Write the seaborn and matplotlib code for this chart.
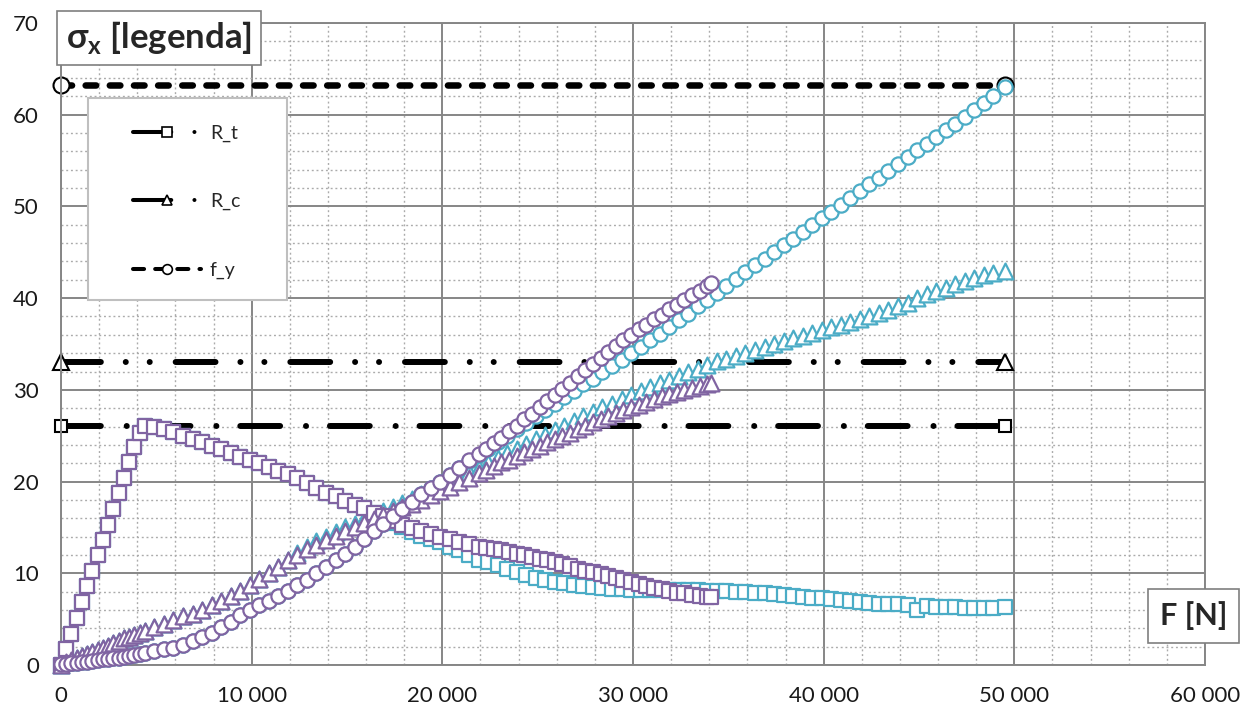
import matplotlib
matplotlib.use("Agg")
import matplotlib.pyplot as plt
import seaborn as sns
from matplotlib.lines import Line2D
from matplotlib.patches import Rectangle
from matplotlib.ticker import MultipleLocator, FuncFormatter

# load steps F [N] (shared part up to ~22 kN, then separate for each run)
f_head = [0, 275, 550, 825, 1100, 1375, 1650, 1925, 2200, 2475, 2750, 3025, 3300,
          3575, 3850, 4125, 4400, 4900, 5400, 5900, 6400, 6900, 7400, 7900, 8400,
          8900, 9400, 9900, 10400, 10900, 11400, 11900, 12400, 12900, 13400, 13900,
          14400, 14900, 15400, 15900, 16400, 16900, 17400, 17900, 18400, 18900,
          19400, 19900, 20400, 20900, 21400, 21900]
f_cyan_tail = [22400, 22900, 23400, 23900, 24400, 24900, 25400, 25900, 26400, 26900,
               27400, 27900, 28400, 28900, 29400, 29900, 30400, 30900, 31400, 31900,
               32400, 32900, 33400, 33900, 34400, 34900, 35400, 35900, 36400, 36900,
               37400, 37900, 38400, 38900, 39400, 39900, 40400, 40900, 41400, 41900,
               42400, 42900, 43400, 43900, 44400, 44900, 45400, 45900, 46400, 46900,
               47400, 47900, 48400, 48900, 49500]
f_purple_tail = [22300, 22700, 23100, 23500, 23900, 24300, 24700, 25100, 25500, 25900,
                 26300, 26700, 27100, 27500, 27900, 28300, 28700, 29100, 29500, 29900,
                 30300, 30700, 31100, 31500, 31900, 32300, 32700, 33100, 33500, 33900,
                 34100]
f_cyan = f_head + f_cyan_tail
f_purple = f_head + f_purple_tail

# sigma_x [MPa] - square markers
sq_purple = [0.0, 1.7, 3.4, 5.1, 6.9, 8.6, 10.3, 12.0, 13.6, 15.3, 17.0, 18.8, 20.4,
             22.1, 23.8, 25.3, 26.1, 26.0, 25.7, 25.4, 25.0, 24.6, 24.3, 23.9, 23.5,
             23.1, 22.7, 22.3, 22.0, 21.6, 21.2, 20.8, 20.4, 19.8, 19.3, 18.8,
             18.4, 17.9, 17.5, 17.1, 16.6, 16.2, 15.7, 15.3, 14.9, 14.6,
             14.3, 14.0, 13.7, 13.4, 13.2, 12.9,
             12.8, 12.6, 12.5, 12.3, 12.1, 12.0, 11.8, 11.6, 11.4, 11.2,
             11.0, 10.8, 10.5, 10.3, 10.1, 9.9, 9.7, 9.5, 9.3, 9.0,
             8.8, 8.6, 8.4, 8.3, 8.1, 7.9, 7.8, 7.6, 7.5, 7.4,
             7.4]
sq_cyan = [0.0, 1.7, 3.4, 5.1, 6.9, 8.6, 10.3, 12.0, 13.6, 15.3, 17.0, 18.8, 20.4,
           22.1, 23.8, 25.3, 26.1, 26.0, 25.7, 25.4, 25.0, 24.6, 24.3, 23.9, 23.5,
           23.1, 22.7, 22.3, 22.0, 21.6, 21.2, 20.8, 20.4, 19.8, 19.3, 18.8,
           18.4, 17.9, 17.5, 17.1, 16.6, 16.1, 15.5, 15.0, 14.5, 14.1,
           13.7, 13.4, 12.9, 12.5, 12.0, 11.5,
           11.2, 10.9, 10.5, 10.1, 9.8, 9.5, 9.3, 9.1, 8.9, 8.7,
           8.6, 8.5, 8.4, 8.3, 8.3, 8.2, 8.2, 8.2, 8.2, 8.2,
           8.2, 8.2, 8.2, 8.1, 8.1, 8.1, 8.0, 8.0, 7.9, 7.8,
           7.7, 7.6, 7.5, 7.4, 7.3, 7.3, 7.2, 7.1, 7.0, 6.9,
           6.8, 6.7, 6.7, 6.6, 6.5, 6.0, 6.4, 6.3, 6.3, 6.3,
           6.2, 6.2, 6.2, 6.2, 6.3]

# triangle markers
tri_purple = [0.0, 0.3, 0.5, 0.8, 1.0, 1.2, 1.4, 1.6, 1.9, 2.1, 2.4, 2.6, 2.9,
              3.1, 3.3, 3.5, 3.7, 4.1, 4.5, 4.9, 5.3, 5.6, 6.0, 6.5, 7.0,
              7.5, 8.1, 8.7, 9.4, 10.0, 10.7, 11.4, 12.0, 12.6, 13.1, 13.6,
              14.1, 14.6, 15.0, 15.5, 15.9, 16.4, 16.8, 17.2, 17.6, 18.0,
              18.5, 19.0, 19.4, 19.9, 20.4, 20.9,
              21.3, 21.7, 22.1, 22.4, 22.8, 23.2, 23.5, 23.9, 24.3, 24.6,
              25.0, 25.3, 25.7, 26.1, 26.5, 26.8, 27.1, 27.5, 27.8, 28.1,
              28.4, 28.7, 29.0, 29.3, 29.5, 29.8, 30.0, 30.2, 30.4, 30.6,
              30.7]
tri_cyan = [0.0, 0.3, 0.5, 0.8, 1.0, 1.2, 1.4, 1.6, 1.9, 2.1, 2.4, 2.6, 2.9,
            3.1, 3.3, 3.5, 3.7, 4.1, 4.5, 4.9, 5.3, 5.6, 6.0, 6.5, 7.0,
            7.5, 8.1, 8.7, 9.4, 10.0, 10.7, 11.4, 12.2, 12.9, 13.5, 14.0,
            14.5, 15.0, 15.4, 15.9, 16.3, 16.8, 17.2, 17.7, 18.1, 18.6,
            19.0, 19.5, 20.0, 20.5, 21.0, 21.5,
            22.0, 22.6, 23.1, 23.6, 24.1, 24.6, 25.1, 25.6, 26.1, 26.6,
            27.1, 27.6, 28.1, 28.5, 29.0, 29.4, 29.9, 30.3, 30.7, 31.1,
            31.5, 31.9, 32.3, 32.7, 33.1, 33.4, 33.7, 34.0, 34.4, 34.7,
            35.0, 35.3, 35.6, 35.9, 36.2, 36.5, 36.8, 37.1, 37.4, 37.7,
            38.0, 38.4, 38.7, 39.1, 39.5, 40.0, 40.4, 40.8, 41.1, 41.5,
            41.9, 42.2, 42.5, 42.7, 43.0]

# circle markers
circ_purple = [0.1, 0.15, 0.2, 0.25, 0.3, 0.35, 0.45, 0.5, 0.6, 0.65, 0.75, 0.8, 0.9,
               1.0, 1.1, 1.2, 1.3, 1.5, 1.7, 1.9, 2.2, 2.6, 3.0, 3.5, 4.1,
               4.7, 5.4, 6.0, 6.5, 7.0, 7.5, 8.1, 8.7, 9.3, 10.0, 10.7,
               11.4, 12.1, 12.9, 13.7, 14.6, 15.4, 16.2, 17.0, 17.8, 18.6,
               19.3, 20.0, 20.7, 21.5, 22.3, 23.0,
               23.6, 24.2, 24.8, 25.5, 26.1, 26.8, 27.4, 28.1, 28.8, 29.4,
               30.1, 30.8, 31.5, 32.2, 32.8, 33.5, 34.1, 34.8, 35.4, 36.0,
               36.6, 37.1, 37.7, 38.2, 38.8, 39.3, 39.8, 40.3, 40.8, 41.3,
               41.7]
circ_cyan = [0.1, 0.15, 0.2, 0.25, 0.3, 0.35, 0.45, 0.5, 0.6, 0.65, 0.75, 0.8, 0.9,
             1.0, 1.1, 1.2, 1.3, 1.5, 1.7, 1.9, 2.2, 2.6, 3.0, 3.5, 4.1,
             4.7, 5.4, 6.0, 6.5, 7.0, 7.5, 8.1, 8.7, 9.3, 10.0, 10.7,
             11.4, 12.1, 12.9, 13.7, 14.6, 15.4, 16.2, 17.0, 17.8, 18.6,
             19.3, 20.0, 20.7, 21.5, 22.2, 22.9,
             23.6, 24.3, 25.0, 25.7, 26.4, 27.1, 27.8, 28.5, 29.2, 29.9,
             30.6, 31.2, 31.9, 32.6, 33.3, 34.0, 34.7, 35.4, 36.1, 36.8,
             37.6, 38.3, 39.1, 39.8, 40.6, 41.3, 42.1, 42.8, 43.6, 44.3,
             45.0, 45.8, 46.5, 47.2, 48.0, 48.7, 49.4, 50.2, 50.9, 51.7,
             52.4, 53.1, 53.9, 54.6, 55.4, 56.1, 56.8, 57.6, 58.3, 59.0,
             59.8, 60.5, 61.3, 62.0, 63.0]

# limits (horizontal reference lines)
F_END = 49500
R_T = 26.1
R_C = 33.0
F_Y = 63.2

CYAN = "#4BACC6"
PURPLE = "#8064A2"
GRID = "#868686"
FONTS = ["Lato", "DejaVu Sans"]

W, H = 1259, 713


def fx(px):
    return px / W


def fy(py):
    return 1 - py / H


sns.set_style("white")
plt.rcParams["font.family"] = FONTS
plt.rcParams["mathtext.fontset"] = "custom"
plt.rcParams["mathtext.bf"] = "Lato:bold"
plt.rcParams["mathtext.rm"] = "Lato"

fig = plt.figure(figsize=(W / 100, H / 100), dpi=100)
ax = fig.add_axes([fx(61), 48 / H, 1144 / W, 642 / H])

ax.set_xlim(0, 60000)
ax.set_ylim(0, 70)
ax.xaxis.set_major_locator(MultipleLocator(10000))
ax.xaxis.set_minor_locator(MultipleLocator(2000))
ax.yaxis.set_major_locator(MultipleLocator(10))
ax.yaxis.set_minor_locator(MultipleLocator(2))
ax.xaxis.set_major_formatter(FuncFormatter(lambda v, p: f"{int(v):,}".replace(",", " ")))
ax.grid(which="major", color=GRID, lw=1.4)
ax.grid(which="minor", color="#ABABAB", lw=1.0, linestyle=(0, (1.4, 2.0)))
ax.set_axisbelow(True)
for sp in ax.spines.values():
    sp.set_color(GRID)
    sp.set_linewidth(1.4)
ax.tick_params(axis="x", which="major", length=6, width=1.4, color=GRID,
               pad=9, labelsize=16, labelcolor="#1a1a1a")
ax.tick_params(axis="y", which="major", length=0, pad=16, labelsize=16,
               labelcolor="#1a1a1a")
ax.tick_params(which="minor", length=0)

# limit lines
line_kw = dict(ax=ax, color="black", dash_capstyle="round", markerfacecolor="white",
               markeredgecolor="black", markeredgewidth=1.5, zorder=2, legend=False,
               clip_on=False)
sns.lineplot(x=[0, F_END], y=[R_T, R_T], lw=4.3,
             linestyle=(0, (6.67, 4.33, 0.01, 4.0)), marker="s", markersize=9, **line_kw)
sns.lineplot(x=[0, F_END], y=[R_C, R_C], lw=4.3,
             linestyle=(0, (6.67, 4.17, 0.01, 4.0, 0.01, 4.34)), marker="^",
             markersize=11.5, **line_kw)
sns.lineplot(x=[0, F_END], y=[F_Y, F_Y], lw=4.7,
             linestyle=(0, (1.62, 2.08)), marker="o", markersize=11.5, **line_kw)

# analysis results
series = [
    (f_cyan, sq_cyan, "s", 95, CYAN, 3),
    (f_cyan, tri_cyan, "^", 130, CYAN, 3),
    (f_cyan, circ_cyan, "o", 105, CYAN, 3),
    (f_purple, sq_purple, "s", 95, PURPLE, 4),
    (f_purple, tri_purple, "^", 130, PURPLE, 4),
    (f_purple, circ_purple, "o", 105, PURPLE, 4),
]
for xs, ys, mk, size, col, z in series:
    sns.scatterplot(x=xs, y=ys, ax=ax, marker=mk, s=size, facecolor="white",
                    edgecolor=col, linewidth=1.6, zorder=z, legend=False, clip_on=False)

# axis title boxes
fig.add_artist(Rectangle((fx(57), fy(65)), 204 / W, 54 / H, transform=fig.transFigure,
                         fc="white", ec="#7F7F7F", lw=1.2, zorder=5))
fig.text(fx(159), fy(37), r"σ$_\mathbf{x}$ [legenda]", ha="center", va="center",
         fontsize=25, fontweight="bold", zorder=6)
fig.add_artist(Rectangle((fx(1148), fy(643)), 91 / W, 54 / H, transform=fig.transFigure,
                         fc="white", ec="#7F7F7F", lw=1.2, zorder=5))
fig.text(fx(1194), fy(616), "F [N]", ha="center", va="center",
         fontsize=22, fontweight="bold", zorder=6)

# legend
fig.add_artist(Rectangle((fx(88), fy(300)), 199 / W, 202 / H, transform=fig.transFigure,
                         fc="white", ec="#BFBFBF", lw=1.5, zorder=5))
proxy_kw = dict(color="black", lw=2.9, dash_capstyle="round", markerfacecolor="white",
                markeredgecolor="black", markeredgewidth=1.2)
handles = [
    Line2D([], [], linestyle=(0, (9.5, 5.75, 0.01, 10)), marker="s", markersize=6.5, **proxy_kw),
    Line2D([], [], linestyle=(0, (9.5, 5.75, 0.01, 10)), marker="^", markersize=7, **proxy_kw),
    Line2D([], [], linestyle=(0, (2.75, 2.75)), marker="o", markersize=7, **proxy_kw),
]
leg = fig.legend(handles, ["R_t", "R_c", "f_y"], loc="upper left",
                 bbox_to_anchor=(fx(133), fy(125)), frameon=False, borderpad=0,
                 borderaxespad=0, handlelength=3.5, handletextpad=0.45,
                 labelspacing=2.62, prop={"family": FONTS, "size": 14})
leg.set_zorder(6)

fig.savefig("out.png", dpi=100)
